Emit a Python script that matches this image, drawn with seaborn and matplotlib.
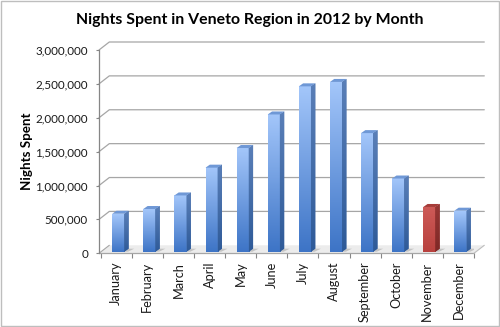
import numpy as np
import pandas as pd
import matplotlib
matplotlib.use("Agg")
import matplotlib.pyplot as plt
import seaborn as sns
from matplotlib.colors import LinearSegmentedColormap
from matplotlib.patches import Polygon, Rectangle
from matplotlib.lines import Line2D
from matplotlib.transforms import Affine2D
from matplotlib.ticker import FuncFormatter, FixedLocator

# Nights spent by tourists in Veneto, 2012
months = ["January", "February", "March", "April", "May", "June",
          "July", "August", "September", "October", "November", "December"]
nights = [560000, 630000, 830000, 1240000, 1530000, 2025000,
          2440000, 2505000, 1750000, 1080000, 660000, 605000]
highlight = "November"
y_ticks = [0, 500000, 1000000, 1500000, 2000000, 2500000, 3000000]

title = "Nights Spent in Veneto Region in 2012 by Month"
y_label = "Nights Spent"

sns.set_theme(style="white")
plt.rcParams["font.family"] = ["Lato", "DejaVu Sans"]

W, H = 500, 327
fig = plt.figure(figsize=(W / 100, H / 100), dpi=100)
fig.patch.set_facecolor("white")

# front plane of the 3-D box, in pixels
ax_left, ax_right, ax_bottom, ax_top = 99, 474, 253.3, 50
ax = fig.add_axes([ax_left / W, 1 - ax_bottom / H,
                   (ax_right - ax_left) / W, (ax_bottom - ax_top) / H])
ax.set_facecolor("none")

df = pd.DataFrame({"Month": months, "Nights": nights})
palette = {m: ("#C0504D" if m == highlight else "#4F81BD") for m in months}
sns.barplot(data=df, x="Month", y="Nights", hue="Month", palette=palette,
            width=0.39, saturation=1, legend=False, ax=ax, zorder=3)

XLIM = (-0.555, 11.5)
YLIM = (0, 3000000)
ax.set_xlim(*XLIM)
ax.set_ylim(*YLIM)

# pixel scale of the data axes
o = ax.transData.transform((0, 0))
sx = ax.transData.transform((1, 0))[0] - o[0]
sy = ax.transData.transform((0, 1))[1] - o[1]

depth_dx, depth_dy = 10.3, 8.0      # back wall offset (px)
bar_dx, bar_dy = 2.0, 1.6           # bars sit a little behind the front edge
side_dx, side_dy = 4.3, 3.0         # bar depth (px)

# floor
fx, fy = depth_dx / sx, depth_dy / sy
floor = Polygon([(XLIM[0], 0), (XLIM[1], 0), (XLIM[1] + fx, fy), (XLIM[0] + fx, fy)],
                closed=True, facecolor="#ECECEC", edgecolor="none",
                clip_on=False, zorder=1)
ax.add_patch(floor)
ax.add_line(Line2D([XLIM[0], XLIM[1]], [0, 0], color="#A6A6A6", lw=0.9,
                   clip_on=False, zorder=1.5))
ax.add_line(Line2D([XLIM[1], XLIM[1] + fx], [0, fy], color="#BDBDBD", lw=0.8,
                   clip_on=False, zorder=1.5))
ax.add_line(Line2D([XLIM[0], XLIM[0] + fx], [0, fy], color="#A6A6A6", lw=0.8,
                   clip_on=False, zorder=1.5))

# back-wall gridlines with the diagonal link to the front axis
for v in y_ticks[1:]:
    ax.add_line(Line2D([XLIM[0], XLIM[0] + fx, XLIM[1] + fx], [v, v + fy, v + fy],
                       color="#A6A6A6", lw=0.9, clip_on=False, zorder=0.5))

bar_tr = ax.transData + Affine2D().translate(bar_dx, bar_dy)
bdx, bdy = side_dx / sx, side_dy / sy

faces = {
    "#4F81BD": dict(lo="#3D74C6", hi="#A3C6FA", side_lo="#2E5A98", side_hi="#5A7FB8",
                    top="#6F98D6"),
    "#C0504D": dict(lo="#B8413E", hi="#CD5A57", side_lo="#7E2826", side_hi="#973735",
                    top="#A63C39"),
}

grad = np.linspace(0, 1, 128).reshape(-1, 1)
for p in list(ax.patches):
    if not isinstance(p, Rectangle) or p.get_height() <= 0:
        continue
    x0, w, h = p.get_x(), p.get_width(), p.get_height()
    x1 = x0 + w
    key = "#C0504D" if round(x0 + w / 2) == months.index(highlight) else "#4F81BD"
    c = faces[key]
    p.set_transform(bar_tr)
    p.set_facecolor("none")
    p.set_edgecolor("none")
    front = LinearSegmentedColormap.from_list("front", [c["lo"], c["hi"]])
    im = ax.imshow(grad, extent=[x0, x1, 0, h], origin="lower", aspect="auto",
                   cmap=front, zorder=2.9, interpolation="bilinear")
    im.set_transform(bar_tr)
    side_cm = LinearSegmentedColormap.from_list("side", [c["side_lo"], c["side_hi"]])
    side = Polygon([(x1, 0), (x1, h), (x1 + bdx, h + bdy), (x1 + bdx, bdy)],
                   closed=True, facecolor=side_cm(0.5), edgecolor="none",
                   transform=bar_tr, zorder=2.9)
    ax.add_patch(side)
    sim = ax.imshow(grad, extent=[x1, x1 + bdx, 0, h + bdy], origin="lower",
                    aspect="auto", cmap=side_cm, zorder=2.95)
    sim.set_transform(bar_tr)
    sim.set_clip_path(side)
    top = Polygon([(x0, h), (x1, h), (x1 + bdx, h + bdy), (x0 + bdx, h + bdy)],
                  closed=True, facecolor=c["top"], edgecolor="none",
                  transform=bar_tr, zorder=3)
    ax.add_patch(top)
    # soft shadow on the floor behind the bar
    sh = Polygon([(x1, 0), (x1 + bdx, bdy), (x1 + bdx + 0.18, bdy), (x1 + 0.12, 0)],
                 closed=True, facecolor="#C4C4C4", edgecolor="none",
                 transform=bar_tr, zorder=1.2)
    ax.add_patch(sh)

ax.set_xlim(*XLIM)
ax.set_ylim(*YLIM)

# axes styling
for s in ["top", "right", "bottom"]:
    ax.spines[s].set_visible(False)
ax.spines["left"].set_color("#868686")
ax.spines["left"].set_linewidth(0.9)

ax.yaxis.set_major_locator(FixedLocator(y_ticks))
ax.yaxis.set_major_formatter(FuncFormatter(lambda v, _: f"{int(v):,}"))
ax.tick_params(axis="y", left=True, length=2.2, width=0.8, color="#868686",
               pad=5.8, labelsize=8.4, labelcolor="#1a1a1a")

ax.set_xticks(range(len(months)))
ax.set_xticklabels(months, rotation=90, va="top", ha="center")
ax.set_xticks(np.arange(-0.5, len(months), 1.0), minor=True)
ax.tick_params(axis="x", which="major", bottom=True, length=0, pad=6,
               labelsize=9.2, labelcolor="#1a1a1a")
ax.tick_params(axis="x", which="minor", bottom=True, length=3.3, width=0.8,
               color="#868686")
ax.set_xlabel("")
ax.set_ylabel(y_label, fontsize=9.6, fontweight="bold", color="black")
ax.yaxis.set_label_coords((33 - ax_left) / (ax_right - ax_left), 0.5)

fig.text(0.5, 1 - 20 / H, title, ha="center", va="center",
         fontsize=11.4, fontweight="bold", color="black")

# chart border
fig.add_artist(Rectangle((0.6 / W, 0.6 / H), 1 - 1.6 / W, 1 - 1.6 / H,
                         transform=fig.transFigure, fill=False,
                         edgecolor="#BEBEBE", lw=1.0))

fig.savefig("out.png", dpi=100, facecolor="white")
